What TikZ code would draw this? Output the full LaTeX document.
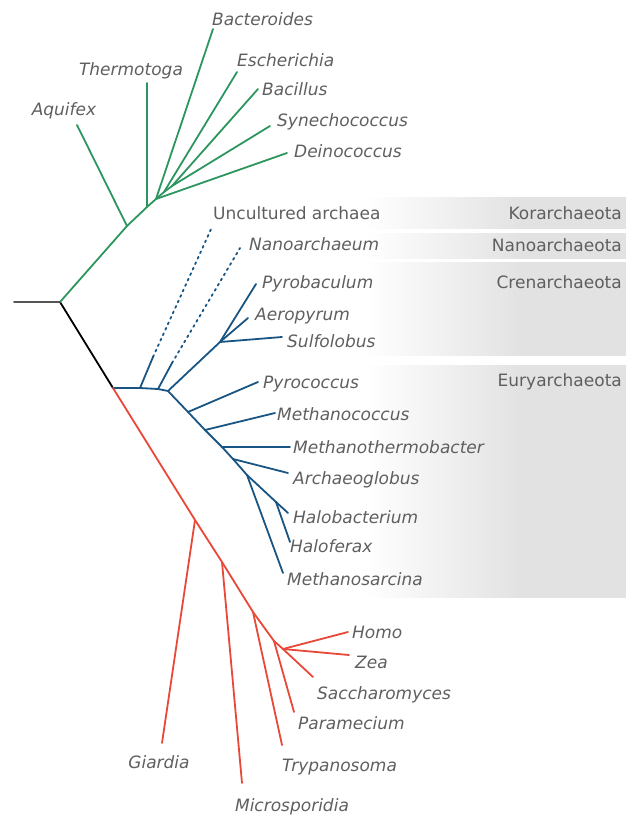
\documentclass[tikz,border=0pt]{standalone}
\usepackage{fontspec}
\setmainfont{DejaVu Sans}
\usepackage{tikz}
\definecolor{bactGreen}{RGB}{45, 150, 95}
\definecolor{archBlue}{RGB}{25, 85, 130}
\definecolor{eukRed}{RGB}{232, 72, 55}
\definecolor{rootGray}{RGB}{85, 85, 85}
\definecolor{textGray}{RGB}{95, 95, 95}
\definecolor{bandGray}{RGB}{226, 226, 226}
\pgfdeclarehorizontalshading{bandfade}{100bp}{color(0bp)=(white); color(25bp)=(white); color(55bp)=(bandGray); color(100bp)=(bandGray)}
\newcommand{\labelsize}{\fontsize{17}{20}\selectfont}
\tikzset{
  branch/.style={line width=1.8pt, line cap=round, line join=round},
  taxon/.style={inner sep=0pt, text=textGray, font=\labelsize\itshape},
  phylum/.style={inner sep=0pt, text=textGray, font=\labelsize, anchor=base east}
}

\begin{document}
\begin{tikzpicture}[x=1pt, y=-1pt, font=\labelsize]
        \useasboundingbox (0,0) rectangle (626,817);
        % shaded phylum bands
        \foreach \ya/\yb in {197/228, 233/258, 262/355, 365/597} {
          \shade[shading=bandfade] (365,\ya) rectangle (626,\yb);
        }
        % junctions and tips
        \coordinate (stub) at (14,302);
        \coordinate (root) at (60,302);
        \coordinate (b1) at (127,226);
        \coordinate (b2) at (147,207);
        \coordinate (b3) at (156,199);
        \coordinate (b4) at (164,192);
        \coordinate (b5) at (172,186);
        \coordinate (tAqu) at (77,125);
        \coordinate (tThe) at (147,83);
        \coordinate (tBac) at (213,29);
        \coordinate (tEsc) at (237,72);
        \coordinate (tBcl) at (258,89);
        \coordinate (tSyn) at (270,126);
        \coordinate (tDei) at (287,153);
        \coordinate (a0) at (113,388);
        \coordinate (k0) at (140,388);
        \coordinate (k1) at (153,357);
        \coordinate (tKor) at (212,227);
        \coordinate (n0) at (158,389);
        \coordinate (n1) at (172,363);
        \coordinate (tNan) at (240,248);
        \coordinate (c0) at (168,391);
        \coordinate (c1) at (220,342);
        \coordinate (tPyb) at (256,284);
        \coordinate (tAer) at (248,318);
        \coordinate (tSul) at (282,337);
        \coordinate (e1) at (188,412);
        \coordinate (e2) at (205,430);
        \coordinate (e3) at (222,447);
        \coordinate (e4) at (233,459);
        \coordinate (e5) at (247,475);
        \coordinate (e6) at (276,502);
        \coordinate (tPyc) at (258,382);
        \coordinate (tMcc) at (275,413);
        \coordinate (tMtb) at (290,447);
        \coordinate (tArc) at (288,473);
        \coordinate (tHbc) at (288,513);
        \coordinate (tHfx) at (290,542);
        \coordinate (tMsr) at (283,573);
        \coordinate (g1) at (195,520);
        \coordinate (g2) at (222,562);
        \coordinate (g3) at (253,612);
        \coordinate (g4) at (274,641);
        \coordinate (g5) at (283,649);
        \coordinate (tGia) at (162,743);
        \coordinate (tMic) at (242,783);
        \coordinate (tTry) at (282,745);
        \coordinate (tPar) at (294,712);
        \coordinate (tSac) at (313,677);
        \coordinate (tHom) at (348,632);
        \coordinate (tZea) at (349,655);
        % root
        \draw[branch, rootGray] (stub) -- (root);
        \draw[branch, black] (root) -- (a0);
        % bacteria
        \draw[branch, bactGreen] (root) -- (b1) -- (b2) -- (b3) -- (b4) -- (b5);
        \draw[branch, bactGreen] (b1) -- (tAqu);
        \draw[branch, bactGreen] (b2) -- (tThe);
        \draw[branch, bactGreen] (b3) -- (tBac);
        \draw[branch, bactGreen] (b3) -- (tDei);
        \draw[branch, bactGreen] (b4) -- (tEsc);
        \draw[branch, bactGreen] (b5) -- (tBcl);
        \draw[branch, bactGreen] (b5) -- (tSyn);
        % archaea
        \draw[branch, archBlue] (a0) -- (k0) -- (n0) -- (c0);
        \draw[branch, archBlue] (k0) -- (k1);
        \draw[branch, archBlue, dash pattern=on 2pt off 4pt] (k1) -- (tKor);
        \draw[branch, archBlue] (n0) -- (n1);
        \draw[branch, archBlue, dash pattern=on 2pt off 4pt] (n1) -- (tNan);
        \draw[branch, archBlue] (c0) -- (c1) -- (tPyb);
        \draw[branch, archBlue] (c1) -- (tAer);
        \draw[branch, archBlue] (c1) -- (tSul);
        \draw[branch, archBlue] (c0) -- (e1) -- (e2) -- (e3) -- (e4) -- (e5) -- (tMsr);
        \draw[branch, archBlue] (e1) -- (tPyc);
        \draw[branch, archBlue] (e2) -- (tMcc);
        \draw[branch, archBlue] (e3) -- (tMtb);
        \draw[branch, archBlue] (e4) -- (tArc);
        \draw[branch, archBlue] (e5) -- (e6) -- (tHbc);
        \draw[branch, archBlue] (e6) -- (tHfx);
        % eukaryotes
        \draw[branch, eukRed] (a0) -- (g1) -- (g2) -- (g3) -- (g4) -- (g5) -- (tSac);
        \draw[branch, eukRed] (g1) -- (tGia);
        \draw[branch, eukRed] (g2) -- (tMic);
        \draw[branch, eukRed] (g3) -- (tTry);
        \draw[branch, eukRed] (g4) -- (tPar);
        \draw[branch, eukRed] (g5) -- (tHom);
        \draw[branch, eukRed] (g5) -- (tZea);
        % taxon labels
        \node[taxon, anchor=base] (lAqu) at (64,115) {Aquifex};
        \node[taxon, anchor=base] (lThe) at (131,75) {Thermotoga};
        \node[taxon, anchor=base west] (lBac) at (212,25) {Bacteroides};
        \node[taxon, anchor=base west] (lEsc) at (237,66) {Escherichia};
        \node[taxon, anchor=base west] (lBcl) at (262,95) {Bacillus};
        \node[taxon, anchor=base west] (lSyn) at (277,126) {Synechococcus};
        \node[taxon, anchor=base west] (lDei) at (294,157) {Deinococcus};
        \node[taxon, font=\labelsize\upshape, anchor=base west] (lKor) at (213,219) {Uncultured archaea};
        \node[taxon, anchor=base west] (lNan) at (249,250) {Nanoarchaeum};
        \node[taxon, anchor=base west] (lPyb) at (262,288) {Pyrobaculum};
        \node[taxon, anchor=base west] (lAer) at (255,320) {Aeropyrum};
        \node[taxon, anchor=base west] (lSul) at (287,347) {Sulfolobus};
        \node[taxon, anchor=base west] (lPyc) at (263,388) {Pyrococcus};
        \node[taxon, anchor=base west] (lMcc) at (277,420) {Methanococcus};
        \node[taxon, anchor=base west] (lMtb) at (293,453) {Methanothermobacter};
        \node[taxon, anchor=base west] (lArc) at (293,484) {Archaeoglobus};
        \node[taxon, anchor=base west] (lHbc) at (293,523) {Halobacterium};
        \node[taxon, anchor=base west] (lHfx) at (290,552) {Haloferax};
        \node[taxon, anchor=base west] (lMsr) at (287,585) {Methanosarcina};
        \node[taxon, anchor=base west] (lHom) at (352,638) {Homo};
        \node[taxon, anchor=base west] (lZea) at (355,668) {Zea};
        \node[taxon, anchor=base west] (lSac) at (317,699) {Saccharomyces};
        \node[taxon, anchor=base west] (lPar) at (298,729) {Paramecium};
        \node[taxon, anchor=base west] (lTry) at (282,771) {Trypanosoma};
        \node[taxon, anchor=base] (lGia) at (159,768) {Giardia};
        \node[taxon, anchor=base] (lMic) at (292,811) {Microsporidia};
        % phylum labels
        \node[phylum] (pKor) at (622,219) {Korarchaeota};
        \node[phylum] (pNan) at (622,251) {Nanoarchaeota};
        \node[phylum] (pCre) at (622,288) {Crenarchaeota};
        \node[phylum] (pEur) at (622,386) {Euryarchaeota};
      \end{tikzpicture}
\end{document}
